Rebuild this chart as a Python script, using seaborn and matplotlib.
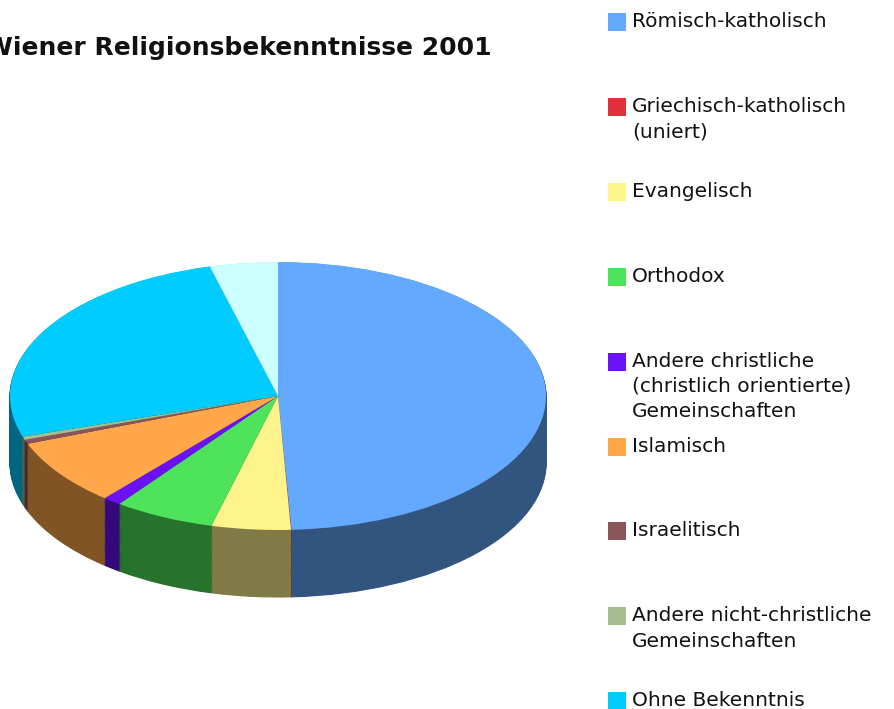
# Religionsbekenntnisse Wien 2001 - 3D-Tortendiagramm mit Legende rechts

import seaborn as sns
import matplotlib.pyplot as plt
from matplotlib.patches import Rectangle
from matplotlib.colors import to_rgb

categories = [
    "Römisch-katholisch",
    "Griechisch-katholisch\n(uniert)",
    "Evangelisch",
    "Orthodox",
    "Andere christliche\n(christlich orientierte)\nGemeinschaften",
    "Islamisch",
    "Israelitisch",
    "Andere nicht-christliche\nGemeinschaften",
    "Ohne Bekenntnis",
    "Ohne Angabe",
]
shares = [49.2, 0.03, 4.77, 6.1, 1.1, 8.0, 0.5, 0.4, 25.8, 4.1]
colors = ["#63A9FF", "#E0303A", "#FFF38B", "#4EE35A", "#6A12F5",
          "#FFA74A", "#8B5458", "#A3BF90", "#00CCFF", "#CCFFFF"]

title = "Anteil der Wiener Religionsbekenntnisse 2001"

sns.set_theme(style="white")
plt.rcParams["font.family"] = ["DejaVu Sans"]

W, H = 895, 709
fig = plt.figure(figsize=(W / 100, H / 100), dpi=100)

# Torte: Mitte (278, 396) px, Radien 268 x 134 px, Tiefe 67 px
depth = 0.5
ax = fig.add_axes([10 / W, (H - 597) / H, 536 / W, 335 / H])
dark = [tuple(c * 0.5 for c in to_rgb(col)) for col in colors]

n_layers = 70
for k in range(n_layers, 0, -1):
    off = depth * k / n_layers
    wedges, _ = ax.pie(shares, colors=dark, startangle=90, counterclock=False,
                       center=(0, -off), radius=1,
                       wedgeprops=dict(linewidth=0.8))
    for w, c in zip(wedges, dark):
        w.set_edgecolor(c)

ax.pie(shares, colors=colors, startangle=90, counterclock=False,
       center=(0, 0), radius=1, wedgeprops=dict(linewidth=0))
ax.set_aspect("auto")
ax.set_xlim(-1, 1)
ax.set_ylim(-1 - depth, 1)
ax.axis("off")

# Titel (links abgeschnitten wie im Original)
fig.text(492 / W, 1 - 48 / H, title, ha="right", va="center",
         fontsize=18, fontweight="bold", color="#111111")

# Legende
step = 84.9
for i, (lab, col) in enumerate(zip(categories, colors)):
    top = 13 + step * i
    fig.patches.append(Rectangle((608 / W, 1 - (top + 18) / H), 18 / W, 18 / H,
                                 transform=fig.transFigure, facecolor=col,
                                 edgecolor="none"))
    fig.text(632 / W, 1 - (top - 1) / H, lab, ha="left", va="top",
             fontsize=14.5, color="#111111", linespacing=1.42)

fig.savefig("out.png", dpi=100, facecolor="white")
